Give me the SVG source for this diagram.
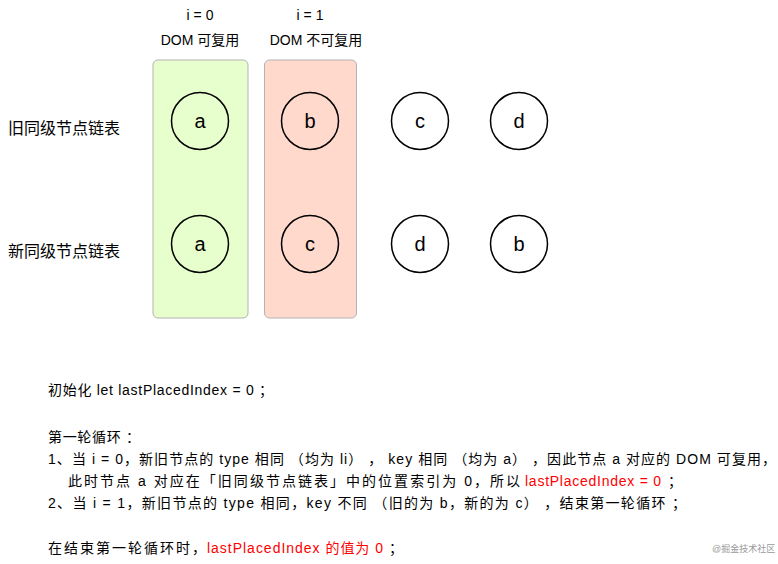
<svg xmlns="http://www.w3.org/2000/svg" width="778" height="564" viewBox="0 0 778 564">
<style>
text{font-family:"Liberation Sans","Noto Sans CJK SC",sans-serif;fill:#000}
.t{font-size:16px}
.n{font-size:20px;text-anchor:middle}
.c{font-size:14px;text-anchor:middle}
.r{fill:#ff0000}
circle{fill:none;stroke:#000;stroke-width:1.5}
</style>
<rect width="778" height="564" fill="#fff"/>
<g id="col0">
<rect x="153" y="60" width="95" height="258" rx="5" fill="#e6ffcc" stroke="#b3b3b3"/>
<text class="c" x="200" y="20">i = 0</text>
<text class="c" x="200" y="45">DOM 可复用</text>
</g>
<g id="col1">
<rect x="264.5" y="60" width="92" height="258" rx="5" fill="#ffd9cc" stroke="#b3b3b3"/>
<text class="c" x="310" y="20">i = 1</text>
<text class="c" x="316" y="45">DOM 不可复用</text>
</g>
<g id="labels">
<text class="t" x="8" y="134">旧同级节点链表</text>
<text class="t" x="8" y="257">新同级节点链表</text>
</g>
<g id="old-a"><circle cx="200" cy="121" r="28.5"/><text class="n" x="200" y="128">a</text></g>
<g id="old-b"><circle cx="310" cy="121" r="28.5"/><text class="n" x="310" y="128">b</text></g>
<g id="old-c"><circle cx="420" cy="121" r="28.5"/><text class="n" x="420" y="128">c</text></g>
<g id="old-d"><circle cx="519" cy="121" r="28.5"/><text class="n" x="519" y="128">d</text></g>
<g id="new-a"><circle cx="200" cy="244" r="28.5"/><text class="n" x="200" y="251">a</text></g>
<g id="new-c"><circle cx="310" cy="244" r="28.5"/><text class="n" x="310" y="251">c</text></g>
<g id="new-d"><circle cx="420" cy="244" r="28.5"/><text class="n" x="420" y="251">d</text></g>
<g id="new-b"><circle cx="519" cy="244" r="28.5"/><text class="n" x="519" y="251">b</text></g>
<g id="connectors"></g>
<g id="notes" font-size="14">
<text x="48" y="395" font-size="14" textLength="225" lengthAdjust="spacing">初始化 let lastPlacedIndex = 0 ；</text>
<text x="48" y="442" font-size="14" textLength="92" lengthAdjust="spacing">第一轮循环 ：</text>
<text x="48" y="464" font-size="14" textLength="728" lengthAdjust="spacing">1、当 i = 0，新旧节点的 type 相同 （均为 li） ， key 相同 （均为 a） ，因此节点 a 对应的 DOM 可复用，</text>
<text x="68" y="486" font-size="14"><tspan textLength="452" lengthAdjust="spacing">此时节点 a 对应在「旧同级节点链表」中的位置索引为 0，所以</tspan><tspan x="525" class="r" textLength="136" lengthAdjust="spacing">lastPlacedIndex = 0</tspan><tspan x="668">；</tspan></text>
<text x="48" y="508" font-size="14" textLength="638" lengthAdjust="spacing">2、当 i = 1，新旧节点的 type 相同，key 不同 （旧的为 b，新的为 c） ，结束第一轮循环 ；</text>
<text x="48" y="553" font-size="14"><tspan textLength="158" lengthAdjust="spacing">在结束第一轮循环时，</tspan><tspan x="207" class="r" textLength="176" lengthAdjust="spacing">lastPlacedIndex 的值为 0</tspan><tspan x="389">；</tspan></text>
<text x="712" y="552" font-size="9" style="fill:#999">@掘金技术社区</text>
</g>
</svg>
